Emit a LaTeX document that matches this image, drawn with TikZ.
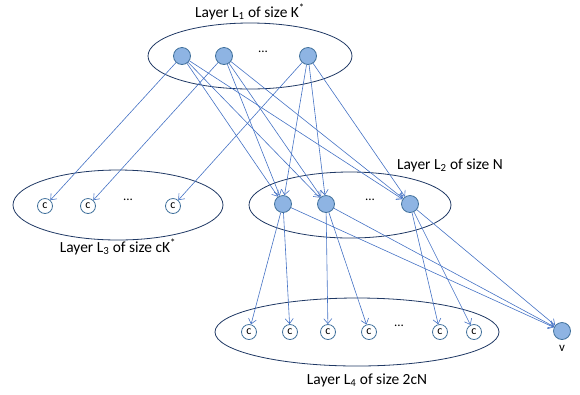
\documentclass[tikz,border=0pt]{standalone}
\usepackage{fontspec}
\setmainfont{Carlito}
\usetikzlibrary{arrows.meta}
\definecolor{edgec}{RGB}{68,114,196}
\definecolor{nfill}{RGB}{142,180,227}
\definecolor{nborder}{RGB}{65,113,156}
\definecolor{ellc}{RGB}{31,56,100}
\begin{document}
\begin{tikzpicture}[x=1bp,y=-1bp,
 big/.style={circle,draw=nborder,fill=nfill,minimum size=17bp,inner sep=0pt,line width=0.8bp},
 cnode/.style={circle,draw=nborder,fill=white,minimum size=15bp,inner sep=0pt,font=\fontsize{12}{12}\selectfont,line width=0.8bp},
 layer/.style={draw=ellc,line width=0.8bp},
 arr/.style={draw=edgec,line width=0.6bp,-{Straight Barb[length=5bp,width=8bp]}},
 lbl/.style={font=\fontsize{15.5}{17}\selectfont,inner sep=0pt},
 dotsl/.style={font=\fontsize{13}{13}\selectfont,inner sep=0pt}
]
\useasboundingbox (0,0) rectangle (580,394);
% layer ellipses
\draw[layer] (250,56) ellipse [x radius=102bp, y radius=33bp];
\draw[layer] (118,205) ellipse [x radius=105bp, y radius=35bp];
\draw[layer] (350,205) ellipse [x radius=101bp, y radius=33bp];
\draw[layer] (357,332) ellipse [x radius=142bp, y radius=34bp];
% labels
\node[lbl] (t1) at (250,12) {Layer L\textsubscript{1} of size K\textsuperscript{*}};
\node[lbl] (t3) at (118,247) {Layer L\textsubscript{3} of size cK\textsuperscript{*}};
\node[lbl] (t2) at (450,165) {Layer L\textsubscript{2} of size N};
\node[lbl] (t4) at (367,380) {Layer L\textsubscript{4} of size 2cN};
% L1
\node[big] (n1) at (182,56) {};
\node[big] (n2) at (224,56) {};
\node[dotsl] (d1) at (263,52) {...};
\node[big] (n3) at (308,56) {};
% L3
\node[cnode] (k1) at (45,206) {c};
\node[cnode] (k2) at (88,206) {c};
\node[dotsl] (d3) at (128,200) {...};
\node[cnode] (k3) at (173,206) {c};
% L2
\node[big] (a1) at (283,204) {};
\node[big] (a2) at (326,204) {};
\node[dotsl] (d2) at (370,200) {...};
\node[big] (a3) at (410,204) {};
% L4
\node[cnode] (c1) at (249,332) {c};
\node[cnode] (c2) at (290,332) {c};
\node[cnode] (c3) at (328,332) {c};
\node[cnode] (c4) at (369,332) {c};
\node[dotsl] (d4) at (399,326) {...};
\node[cnode] (c5) at (440,332) {c};
\node[cnode] (c6) at (474,332) {c};
% v
\node[big] (v) at (562,331) {};
\node[font=\fontsize{13}{13}\selectfont,inner sep=0pt] (vl) at (562,348) {v};
% edges L1
\draw[arr] (n1) -- (k1);
\draw[arr] (n2) -- (k2);
\draw[arr] (n3) -- (k3);
\foreach \s in {n1,n2,n3}{
  \foreach \t in {a1,a2,a3}{
    \draw[arr] (\s) -- (\t);
  }
}
% edges L2
\draw[arr] (a1) -- (c1);
\draw[arr] (a1) -- (c2);
\draw[arr] (a2) -- (c3);
\draw[arr] (a2) -- (c4);
\draw[arr] (a3) -- (c5);
\draw[arr] (a3) -- (c6);
\draw[arr] (a1) -- (v);
\draw[arr] (a2) -- (v);
\draw[arr] (a3) -- (v);
\end{tikzpicture}
\end{document}
